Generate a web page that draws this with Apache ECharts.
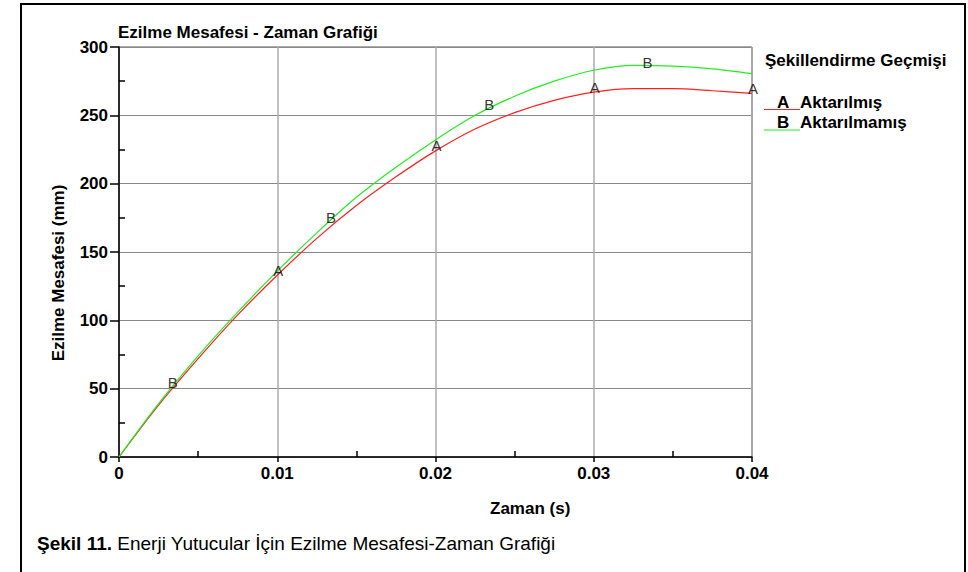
<!DOCTYPE html>
<html>
<head>
<meta charset="utf-8">
<script src="https://cdn.jsdelivr.net/npm/echarts@6/dist/echarts.min.js"></script>
<style>
html,body{margin:0;padding:0;background:#fff;}
#c{width:968px;height:572px;}
</style>
</head>
<body>
<div id="c"></div>
<script>
var times = [0, 0.0025, 0.005, 0.0075, 0.01, 0.0125, 0.015, 0.0175, 0.02, 0.0225, 0.025, 0.0275, 0.03, 0.0325, 0.035, 0.0375, 0.04];
var aktarilmis = [0, 38, 72, 104, 133, 160, 184, 205, 224, 240, 252, 261, 267, 269.5, 269.5, 268, 266];
var aktarilmamis = [0, 39, 74, 106, 136, 164, 190, 212, 232, 250, 264, 275, 283, 286.5, 286, 284, 280.5];
var markA = [[0.01, 133], [0.02, 224], [0.03, 267], [0.04, 266]];
var markB = [[0.00333, 52], [0.01333, 173], [0.02333, 256], [0.03333, 286.5]];
var seriesNames = ['Aktarılmış', 'Aktarılmamış'];
var chartTitle = 'Ezilme Mesafesi - Zaman Grafiği';
var legendTitle = 'Şekillendirme Geçmişi';
var xName = 'Zaman (s)';
var yName = 'Ezilme Mesafesi (mm)';
var captionBold = 'Şekil 11.';
var captionText = ' Enerji Yutucular İçin Ezilme Mesafesi-Zaman Grafiği';

function pairs(xs, ys) { return xs.map(function (x, i) { return [x, ys[i]]; }); }

var FONT = 'Liberation Sans, Arial, sans-serif';
var chart = echarts.init(document.getElementById('c'), null, { renderer: 'svg' });
var letterLabel = function (txt, dy) {
  return { show: true, position: 'inside', offset: [1, dy], formatter: txt, fontFamily: FONT, fontSize: 15,
    color: '#000', textBorderWidth: 0, textShadowBlur: 0 };
};
chart.setOption({
  backgroundColor: '#fff',
  animation: false,
  grid: { left: 119, top: 47, width: 633, height: 410, show: true, borderColor: '#555', borderWidth: 1, backgroundColor: 'transparent' },
  xAxis: {
    type: 'value', min: 0, max: 0.04, interval: 0.01,
    axisLine: { lineStyle: { color: '#000', width: 1.5 } },
    axisTick: { show: true, length: 5, lineStyle: { color: '#000', width: 1.5 } },
    minorTick: { show: true, splitNumber: 2, length: -6, lineStyle: { color: '#000', width: 1.5 } },
    axisLabel: { margin: 8, fontFamily: FONT, fontWeight: 'bold', fontSize: 17, color: '#000',
      formatter: function (v) { return v === 0 ? '0' : v.toFixed(2); } },
    splitLine: { show: true, lineStyle: { color: '#aaa', width: 1.5 } }
  },
  yAxis: {
    type: 'value', min: 0, max: 300, interval: 50,
    axisLine: { show: true, lineStyle: { color: '#000', width: 1.5 } },
    axisTick: { show: true, length: 9, lineStyle: { color: '#000', width: 1.5 } },
    minorTick: { show: true, splitNumber: 2, length: -6, lineStyle: { color: '#000', width: 1.5 } },
    axisLabel: { margin: 11, fontFamily: FONT, fontWeight: 'bold', fontSize: 17, color: '#000' },
    splitLine: { show: true, lineStyle: { color: '#888', width: 1 } }
  },
  series: [
    { name: seriesNames[0], type: 'line', data: pairs(times, aktarilmis), smooth: 0.3, showSymbol: false,
      lineStyle: { color: '#ff2020', width: 1.2 }, z: 3 },
    { name: seriesNames[1], type: 'line', data: pairs(times, aktarilmamis), smooth: 0.3, showSymbol: false,
      lineStyle: { color: '#22ee22', width: 1.2 }, z: 3 },
    { name: 'A', type: 'scatter', data: markA, symbolSize: 2, itemStyle: { color: 'rgba(0,0,0,0)' }, z: 5,
      label: letterLabel('A', -5) },
    { name: 'B', type: 'scatter', data: markB, symbolSize: 2, itemStyle: { color: 'rgba(0,0,0,0)' }, z: 5,
      label: letterLabel('B', -3) }
  ],
  graphic: [
    { type: 'rect', shape: { x: 21, y: 4, width: 944, height: 620 }, style: { fill: 'none', stroke: '#000', lineWidth: 2 }, silent: true },
    { type: 'text', left: 118, top: 24, style: { text: chartTitle, font: 'bold 17px ' + FONT, fill: '#000' } },
    { type: 'text', left: 490, top: 500, style: { text: xName, font: 'bold 17px ' + FONT, fill: '#000', align: 'center' } },
    { type: 'text', x: 58, y: 273, rotation: Math.PI / 2, style: { text: yName, font: 'bold 17px ' + FONT, fill: '#000', align: 'center', verticalAlign: 'middle' } },
    { type: 'text', left: 765, top: 52, style: { text: legendTitle, font: 'bold 17px ' + FONT, fill: '#000' } },
    { type: 'line', shape: { x1: 764, y1: 109.5, x2: 800, y2: 109.5 }, style: { stroke: '#ff2020', lineWidth: 1.2 } },
    { type: 'text', left: 777, top: 94, style: { text: 'A', font: 'bold 17px ' + FONT, fill: '#000' } },
    { type: 'text', left: 800, top: 94, style: { text: seriesNames[0], font: 'bold 17px ' + FONT, fill: '#000' } },
    { type: 'line', shape: { x1: 764, y1: 130, x2: 800, y2: 130 }, style: { stroke: '#22ee22', lineWidth: 1.2 } },
    { type: 'text', left: 777, top: 114, style: { text: 'B', font: 'bold 17px ' + FONT, fill: '#000' } },
    { type: 'text', left: 800, top: 114, style: { text: seriesNames[1], font: 'bold 17px ' + FONT, fill: '#000' } },
    { type: 'text', left: 37, top: 534, style: {
      text: '{b|' + captionBold + '}{n|' + captionText + '}',
      rich: { b: { font: 'bold 19px ' + FONT, fill: '#000' }, n: { font: '19px ' + FONT, fill: '#000' } } } }
  ]
});
</script>
</body>
</html>
